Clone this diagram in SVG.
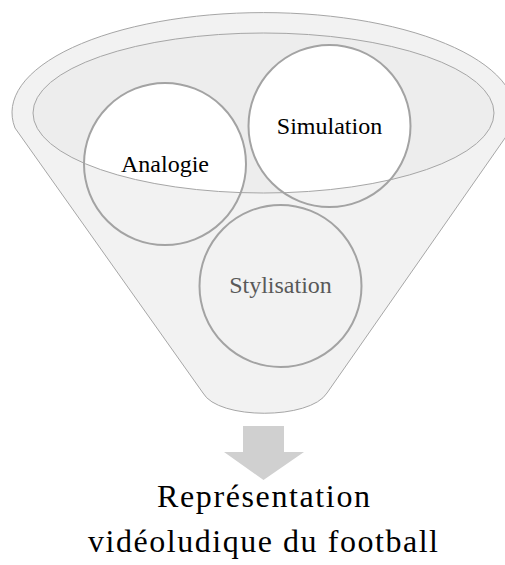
<svg xmlns="http://www.w3.org/2000/svg" width="505" height="565" viewBox="0 0 505 565">
  <style>
    .funnel { fill: #F2F2F2; stroke: #A6A6A6; stroke-width: 1; }
    .rim { fill: #EDEDED; stroke: none; }
    .rimline { fill: none; stroke: #A6A6A6; stroke-width: 1; }
    .disc { fill: #FFFFFF; stroke: none; }
    .ring { fill: none; stroke: #A3A3A3; stroke-width: 2; }
    .lbl { font-family: "Liberation Serif", "Times New Roman", serif; font-size: 24px; text-anchor: middle; fill: #000000; }
    .lbl.dim { fill: #595959; }
    .out { font-family: "Liberation Serif", "Times New Roman", serif; font-size: 32px; text-anchor: middle; fill: #000000; }
    .arrow { fill: #D0D0D0; stroke: none; }
  </style>
  <defs>
    <clipPath id="rimClip">
      <ellipse cx="263.5" cy="113" rx="230.5" ry="80"/>
    </clipPath>
  </defs>

  <g id="funnel">
    <path class="funnel" d="M15,128 A251.5,100 0 1 1 512,128 L327,393 C310,420 218,420 203,393 Z"/>
    <ellipse class="rim" cx="263.5" cy="113" rx="230.5" ry="80"/>
    <g clip-path="url(#rimClip)">
      <circle class="disc" cx="165" cy="164" r="81"/>
      <circle class="disc" cx="329.5" cy="126" r="81"/>
    </g>
    <ellipse class="rimline" cx="263.5" cy="113" rx="230.5" ry="80"/>
  </g>

  <g id="analogie">
    <circle class="ring" cx="165" cy="164" r="81"/>
    <text class="lbl" x="165" y="172">Analogie</text>
  </g>

  <g id="simulation">
    <circle class="ring" cx="329.5" cy="126" r="81"/>
    <text class="lbl" x="329.5" y="134">Simulation</text>
  </g>

  <g id="stylisation">
    <circle class="ring" cx="280.5" cy="286" r="81"/>
    <text class="lbl dim" x="280.5" y="293">Stylisation</text>
  </g>

  <g id="connectors">
    <path class="arrow" d="M243,426 L284,426 L284,452 L304,452 L263.5,480 L224,452 L243,452 Z"/>
  </g>

  <g id="result">
    <text class="out" x="263.5" y="507" textLength="213" lengthAdjust="spacing">Représentation</text>
    <text class="out" x="263" y="552" textLength="350" lengthAdjust="spacing">vidéoludique du football</text>
  </g>
</svg>
